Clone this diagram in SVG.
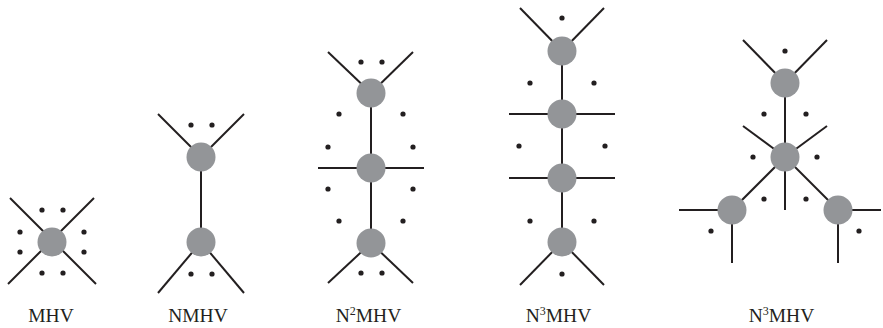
<svg xmlns="http://www.w3.org/2000/svg" width="883" height="328" viewBox="0 0 883 328">
  <style>
    .edge { stroke: #231f20; stroke-width: 2; fill: none; }
    .vertex { fill: #939598; }
    .dot { fill: #231f20; }
    .label { font-family: "Liberation Serif", "Times New Roman", serif; font-size: 19.5px; fill: #231f20; text-anchor: middle; }
    .sup { font-size: 12px; }
  </style>
  <rect width="883" height="328" fill="#ffffff"/>

  <!-- legs and internal propagators -->
  <g id="connectors">
    <!-- MHV -->
    <line class="edge" x1="10" y1="198" x2="96" y2="284"/>
    <line class="edge" x1="94" y1="198" x2="8" y2="284"/>
    <!-- NMHV -->
    <line class="edge" x1="158" y1="114" x2="201" y2="157"/>
    <line class="edge" x1="244" y1="114" x2="201" y2="157"/>
    <line class="edge" x1="201" y1="157" x2="201" y2="242"/>
    <line class="edge" x1="158" y1="293" x2="201" y2="242"/>
    <line class="edge" x1="244" y1="293" x2="201" y2="242"/>
    <!-- N2MHV -->
    <line class="edge" x1="328" y1="52" x2="371" y2="93"/>
    <line class="edge" x1="413" y1="52" x2="371" y2="93"/>
    <line class="edge" x1="371" y1="93" x2="371" y2="243"/>
    <line class="edge" x1="318" y1="168" x2="424" y2="168"/>
    <line class="edge" x1="328" y1="283" x2="371" y2="243"/>
    <line class="edge" x1="413" y1="283" x2="371" y2="243"/>
    <!-- N3MHV chain -->
    <line class="edge" x1="520" y1="8" x2="562" y2="51"/>
    <line class="edge" x1="604" y1="8" x2="562" y2="51"/>
    <line class="edge" x1="562" y1="51" x2="562" y2="242"/>
    <line class="edge" x1="509" y1="114" x2="615" y2="114"/>
    <line class="edge" x1="509" y1="178" x2="615" y2="178"/>
    <line class="edge" x1="520" y1="285" x2="562" y2="242"/>
    <line class="edge" x1="604" y1="285" x2="562" y2="242"/>
    <!-- N3MHV tree -->
    <line class="edge" x1="743" y1="40" x2="785" y2="83"/>
    <line class="edge" x1="827" y1="40" x2="785" y2="83"/>
    <line class="edge" x1="785" y1="83" x2="785" y2="210"/>
    <line class="edge" x1="743" y1="126" x2="785" y2="157"/>
    <line class="edge" x1="827" y1="126" x2="785" y2="157"/>
    <line class="edge" x1="785" y1="157" x2="732" y2="210"/>
    <line class="edge" x1="785" y1="157" x2="838" y2="210"/>
    <line class="edge" x1="679" y1="210" x2="732" y2="210"/>
    <line class="edge" x1="732" y1="210" x2="732" y2="263"/>
    <line class="edge" x1="838" y1="210" x2="881" y2="210"/>
    <line class="edge" x1="838" y1="210" x2="838" y2="263"/>
  </g>

  <!-- MHV -->
  <g id="mhv">
    <circle class="vertex" cx="52" cy="242" r="14.5"/>
    <circle class="dot" cx="42" cy="210" r="2.6"/>
    <circle class="dot" cx="63" cy="210" r="2.6"/>
    <circle class="dot" cx="20" cy="232" r="2.6"/>
    <circle class="dot" cx="84" cy="232" r="2.6"/>
    <circle class="dot" cx="20" cy="252" r="2.6"/>
    <circle class="dot" cx="84" cy="252" r="2.6"/>
    <circle class="dot" cx="42" cy="273" r="2.6"/>
    <circle class="dot" cx="63" cy="273" r="2.6"/>
    <text class="label" x="51" y="322">MHV</text>
  </g>

  <!-- NMHV -->
  <g id="nmhv">
    <circle class="vertex" cx="201" cy="157" r="14.5"/>
    <circle class="vertex" cx="201" cy="242" r="14.5"/>
    <circle class="dot" cx="191" cy="125" r="2.6"/>
    <circle class="dot" cx="212" cy="125" r="2.6"/>
    <circle class="dot" cx="191" cy="274" r="2.6"/>
    <circle class="dot" cx="212" cy="274" r="2.6"/>
    <text class="label" x="198" y="322">NMHV</text>
  </g>

  <!-- N2MHV -->
  <g id="n2mhv">
    <circle class="vertex" cx="371" cy="93" r="14.5"/>
    <circle class="vertex" cx="371" cy="168" r="14.5"/>
    <circle class="vertex" cx="371" cy="243" r="14.5"/>
    <circle class="dot" cx="361" cy="62" r="2.6"/>
    <circle class="dot" cx="382" cy="62" r="2.6"/>
    <circle class="dot" cx="339" cy="114" r="2.6"/>
    <circle class="dot" cx="403" cy="114" r="2.6"/>
    <circle class="dot" cx="328" cy="147" r="2.6"/>
    <circle class="dot" cx="413" cy="147" r="2.6"/>
    <circle class="dot" cx="328" cy="189" r="2.6"/>
    <circle class="dot" cx="413" cy="189" r="2.6"/>
    <circle class="dot" cx="339" cy="221" r="2.6"/>
    <circle class="dot" cx="403" cy="221" r="2.6"/>
    <circle class="dot" cx="361" cy="273" r="2.6"/>
    <circle class="dot" cx="382" cy="273" r="2.6"/>
    <text class="label" x="368.5" y="322">N<tspan class="sup" dy="-7">2</tspan><tspan dy="7">MHV</tspan></text>
  </g>

  <!-- N3MHV, chain of four vertices -->
  <g id="n3mhv-chain">
    <circle class="vertex" cx="562" cy="51" r="14.5"/>
    <circle class="vertex" cx="562" cy="114" r="14.5"/>
    <circle class="vertex" cx="562" cy="178" r="14.5"/>
    <circle class="vertex" cx="562" cy="242" r="14.5"/>
    <circle class="dot" cx="562" cy="18" r="2.6"/>
    <circle class="dot" cx="530" cy="83" r="2.6"/>
    <circle class="dot" cx="594" cy="83" r="2.6"/>
    <circle class="dot" cx="519" cy="146" r="2.6"/>
    <circle class="dot" cx="605" cy="146" r="2.6"/>
    <circle class="dot" cx="530" cy="221" r="2.6"/>
    <circle class="dot" cx="594" cy="221" r="2.6"/>
    <circle class="dot" cx="562" cy="274" r="2.6"/>
    <text class="label" x="558.5" y="322">N<tspan class="sup" dy="-7">3</tspan><tspan dy="7">MHV</tspan></text>
  </g>

  <!-- N3MHV, branched tree -->
  <g id="n3mhv-tree">
    <circle class="vertex" cx="785" cy="83" r="14.5"/>
    <circle class="vertex" cx="785" cy="157" r="14.5"/>
    <circle class="vertex" cx="732" cy="210" r="14.5"/>
    <circle class="vertex" cx="838" cy="210" r="14.5"/>
    <circle class="dot" cx="785" cy="51" r="2.6"/>
    <circle class="dot" cx="764" cy="114" r="2.6"/>
    <circle class="dot" cx="806" cy="114" r="2.6"/>
    <circle class="dot" cx="753" cy="157" r="2.6"/>
    <circle class="dot" cx="817" cy="157" r="2.6"/>
    <circle class="dot" cx="764" cy="199" r="2.6"/>
    <circle class="dot" cx="806" cy="199" r="2.6"/>
    <circle class="dot" cx="711" cy="231" r="2.6"/>
    <circle class="dot" cx="859" cy="231" r="2.6"/>
    <text class="label" x="781.5" y="322">N<tspan class="sup" dy="-7">3</tspan><tspan dy="7">MHV</tspan></text>
  </g>
</svg>
